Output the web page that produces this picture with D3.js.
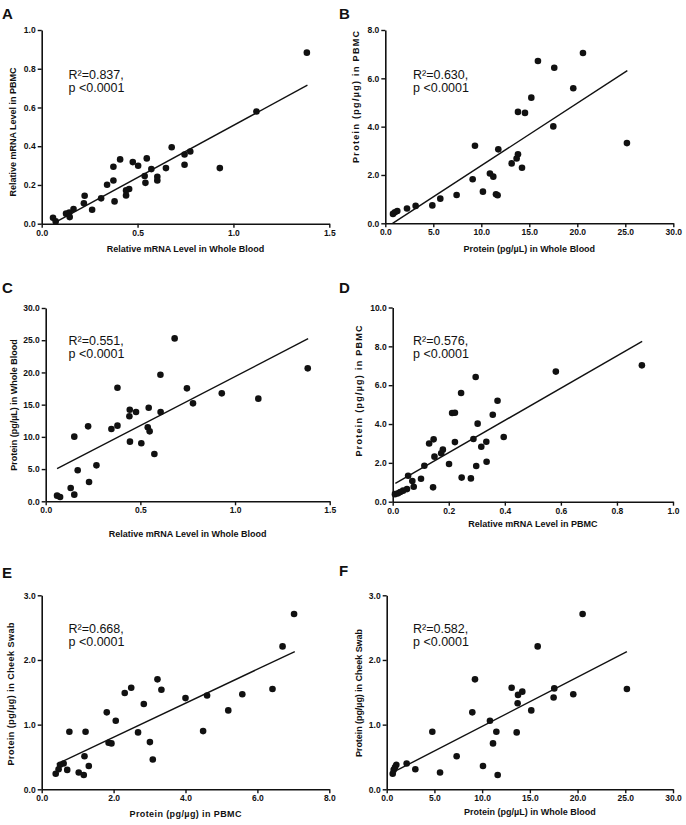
<!DOCTYPE html>
<html><head><meta charset="utf-8">
<script src="https://cdn.jsdelivr.net/npm/d3@7"></script>
<style>
html,body{margin:0;padding:0;background:#fff;}
svg{display:block;font-family:"Liberation Sans",Arial,sans-serif;}
</style></head>
<body><svg id="c" width="686" height="825"></svg>
<script>
// ---------- DATA ----------
const panelLetters = ["A","B","C","D","E","F"];
const rsqLabels = ["0.837","0.630","0.551","0.576","0.668","0.582"];
const pLabel = "p <0.0001";

const xTitles = ["Relative mRNA Level in Whole Blood","Protein (pg/\u00b5L) in Whole Blood","Relative mRNA Level in Whole Blood","Relative mRNA Level in PBMC","Protein (pg/\u00b5g) in PBMC","Protein (pg/\u00b5L) in Whole Blood"];
const yTitles = ["Relative mRNA Level in PBMC","Protein (pg/\u00b5g) in PBMC","Protein (pg/\u00b5L) in Whole Blood","Protein (pg/\u00b5g) in PBMC","Protein (pg/\u00b5g) in Cheek Swab","Protein (pg/\u00b5g) in Cheek Swab"];

const xTicksA = [0,0.5,1.0,1.5],  yTicksA = [0,0.2,0.4,0.6,0.8,1.0];
const xTicksB = [0,5,10,15,20,25,30], yTicksB = [0,2,4,6,8];
const xTicksC = [0,0.5,1.0,1.5],  yTicksC = [0,5,10,15,20,25,30];
const xTicksD = [0,0.2,0.4,0.6,0.8,1.0], yTicksD = [0,2,4,6,8,10];
const xTicksE = [0,2,4,6,8], yTicksE = [0,1,2,3];
const xTicksF = [0,5,10,15,20,25,30], yTicksF = [0,1,2,3];

// A: mRNA whole blood vs mRNA PBMC
const aX = [1.383,1.12,0.678,0.775,0.745,0.745,0.929,0.648,0.548,0.503,0.475,0.409,0.374,0.572,0.537,0.541,0.603,0.603,0.374,0.341,0.456,0.440,0.440,0.380,0.310,0.224,0.220,0.263,0.166,0.144,0.127,0.146,0.059,0.073];
const aY = [0.883,0.579,0.395,0.373,0.357,0.304,0.287,0.287,0.337,0.299,0.318,0.332,0.294,0.282,0.246,0.211,0.242,0.223,0.223,0.201,0.179,0.172,0.146,0.115,0.131,0.144,0.105,0.072,0.076,0.058,0.052,0.034,0.031,0.012];
const aLine = [[0.075,0.010],[1.386,0.715]];

// B: protein whole blood vs protein PBMC
const bX = [20.59,15.90,17.60,19.58,15.21,13.82,14.55,17.50,25.17,9.34,11.77,13.82,13.68,13.16,14.24,10.90,11.25,9.10,10.17,11.53,11.70,7.43,5.73,4.90,3.16,2.26,1.25,1.00,0.80];
const bY = [7.05,6.72,6.44,5.59,5.20,4.61,4.57,4.01,3.32,3.21,3.06,2.86,2.68,2.48,2.30,2.06,1.93,1.82,1.31,1.20,1.16,1.17,1.02,0.74,0.72,0.61,0.51,0.46,0.39];
const bLine = [[0.76,0.0],[25.21,6.32]];

// C: mRNA whole blood vs protein whole blood
const cX = [0.681,1.384,0.606,0.379,0.746,0.930,1.123,0.778,0.544,0.444,0.477,0.607,0.442,0.224,0.379,0.347,0.539,0.549,0.151,0.445,0.505,0.574,0.268,0.169,0.229,0.132,0.151,0.060,0.076];
const cY = [25.28,20.63,19.65,17.63,17.53,16.75,15.93,15.20,14.53,14.22,13.86,13.86,13.19,11.63,11.74,11.22,11.48,10.86,10.03,9.26,9.00,7.34,5.58,4.81,3.00,2.07,1.03,0.88,0.67];
const cLine = [[0.060,5.07],[1.386,25.23]];

// D: mRNA PBMC vs protein PBMC
const dX = [0.889,0.582,0.296,0.244,0.374,0.357,0.212,0.222,0.303,0.396,0.288,0.146,0.130,0.222,0.334,0.316,0.179,0.173,0.149,0.335,0.201,0.298,0.113,0.055,0.101,0.246,0.279,0.070,0.075,0.144,0.051,0.037,0.027,0.019,0.008];
const dY = [7.02,6.70,6.42,5.60,5.20,4.48,4.57,4.58,4.02,3.33,3.23,3.21,3.00,3.07,3.09,2.83,2.68,2.49,2.32,2.06,1.94,1.84,1.85,1.34,1.18,1.24,1.20,1.06,0.77,0.74,0.65,0.57,0.50,0.43,0.39];
const dLine = [[0.0095,0.94],[0.890,8.26]];

// E: protein PBMC vs cheek swab
const eX = [7.02,6.70,3.22,2.49,6.42,3.33,2.31,4.60,5.58,4.00,2.84,5.19,1.81,2.06,0.77,1.22,2.68,4.49,1.86,1.94,3.01,3.09,1.19,0.61,0.51,0.47,0.71,1.31,1.03,1.17,0.39];
const eY = [2.71,2.21,1.70,1.57,1.55,1.54,1.49,1.45,1.47,1.41,1.32,1.22,1.19,1.06,0.89,0.89,0.88,0.90,0.72,0.71,0.73,0.46,0.51,0.40,0.38,0.31,0.30,0.36,0.26,0.22,0.24];
const eLine = [[0.42,0.39],[7.04,2.13]];

// F: protein whole blood vs cheek swab
const fX = [20.53,15.82,9.25,13.09,17.56,25.17,14.21,13.76,17.49,19.55,13.72,15.15,8.97,10.82,4.78,11.49,13.62,11.14,7.33,2.09,1.01,0.87,0.73,0.63,3.00,5.59,10.09,11.63];
const fY = [2.71,2.21,1.70,1.57,1.56,1.55,1.51,1.46,1.42,1.47,1.33,1.22,1.19,1.06,0.89,0.89,0.88,0.71,0.51,0.40,0.38,0.34,0.30,0.24,0.31,0.26,0.36,0.22];
const fLine = [[0.63,0.26],[25.17,2.13]];

// ---------- LAYOUT ----------
const panels = [
  {xs:aX, ys:aY, line:aLine, xt:xTicksA, yt:yTicksA, px:[41.7,329.3], py:[223.7,30],  let:[2,18.5],   rsq:[68.5,78.5],  yT:[15.5,132], xTy:252, xLen:null, yLen:null},
  {xs:bX, ys:bY, line:bLine, xt:xTicksB, yt:yTicksB, px:[385.3,673.3], py:[223.3,30], let:[339,18.5], rsq:[413,78.5],  yT:[358.5,97], xTy:252, xLen:null, yLen:132},
  {xs:cX, ys:cY, line:cLine, xt:xTicksC, yt:yTicksC, px:[45.7,329.7], py:[501.3,308], let:[2,293],    rsq:[68.5,345],   yT:[16.5,405], xTy:537, xLen:null, yLen:null},
  {xs:dX, ys:dY, line:dLine, xt:xTicksD, yt:yTicksD, px:[392.7,673], py:[501.7,307.5],let:[339,293],  rsq:[413,345],    yT:[361.5,391], xTy:527, xLen:null, yLen:131},
  {xs:eX, ys:eY, line:eLine, xt:xTicksE, yt:yTicksE, px:[41.7,329.3], py:[789.3,595.3],let:[2,578],   rsq:[68.5,633],   yT:[13.5,694], xTy:816.5, xLen:112, yLen:143},
  {xs:fX, ys:fY, line:fLine, xt:xTicksF, yt:yTicksF, px:[386.7,673], py:[789.3,595.3],let:[339,576],  rsq:[413,633],    yT:[361.5,693], xTy:815, xLen:null, yLen:128}
];

const svg = d3.select("#c");
const fmt = d3.format(".1f");
const ink = "#111";

panels.forEach((p,i)=>{
  const x = d3.scaleLinear().domain([p.xt[0], p.xt[p.xt.length-1]]).range(p.px);
  const y = d3.scaleLinear().domain([p.yt[0], p.yt[p.yt.length-1]]).range(p.py);
  const g = svg.append("g");

  const xa = g.append("g").attr("transform",`translate(0,${p.py[0]})`)
    .call(d3.axisBottom(x).tickValues(p.xt).tickFormat(fmt).tickSize(4).tickSizeOuter(0).tickPadding(2));
  const ya = g.append("g").attr("transform",`translate(${p.px[0]},0)`)
    .call(d3.axisLeft(y).tickValues(p.yt).tickFormat(fmt).tickSize(4).tickSizeOuter(0).tickPadding(2));
  [xa,ya].forEach(a=>{
    a.select(".domain").attr("stroke",ink).attr("stroke-width",1.6);
    a.selectAll(".tick line").attr("stroke",ink).attr("stroke-width",1.4);
    a.selectAll(".tick text").attr("fill",ink).attr("font-size","8.5px").attr("font-weight","bold")
      .attr("font-family",'"Liberation Sans",Arial,sans-serif');
  });

  // regression line
  g.append("line")
    .attr("x1",x(p.line[0][0])).attr("y1",y(p.line[0][1]))
    .attr("x2",x(p.line[1][0])).attr("y2",y(p.line[1][1]))
    .attr("stroke",ink).attr("stroke-width",1.4);

  // points
  g.selectAll("circle").data(p.xs.map((v,k)=>[v,p.ys[k]])).enter().append("circle")
    .attr("cx",d=>x(d[0])).attr("cy",d=>y(d[1])).attr("r",3.3).attr("fill",ink);

  // panel letter
  g.append("text").attr("x",p.let[0]).attr("y",p.let[1]).text(panelLetters[i])
    .attr("font-size","15px").attr("font-weight","bold").attr("fill",ink);

  // R2 annotation
  g.append("text").attr("x",p.rsq[0]).attr("y",p.rsq[1]).attr("font-size","12.5px").attr("fill",ink)
    .text("R\u00b2=" + rsqLabels[i] + ",");
  g.append("text").attr("x",p.rsq[0]).attr("y",p.rsq[1]+13).attr("font-size","12.5px").attr("fill",ink).text(pLabel);

  // axis titles
  const xt = g.append("text").attr("x",(p.px[0]+p.px[1])/2).attr("y",p.xTy).attr("text-anchor","middle")
    .attr("font-size","9px").attr("font-weight","bold").attr("fill",ink).text(xTitles[i]);
  if (p.xLen) xt.attr("textLength",p.xLen).attr("lengthAdjust","spacing");
  const yt = g.append("text").attr("transform",`translate(${p.yT[0]},${p.yT[1]}) rotate(-90)`).attr("text-anchor","middle")
    .attr("font-size","9px").attr("font-weight","bold").attr("fill",ink).text(yTitles[i]);
  if (p.yLen) yt.attr("textLength",p.yLen).attr("lengthAdjust","spacing");
});
</script>
</body></html>
